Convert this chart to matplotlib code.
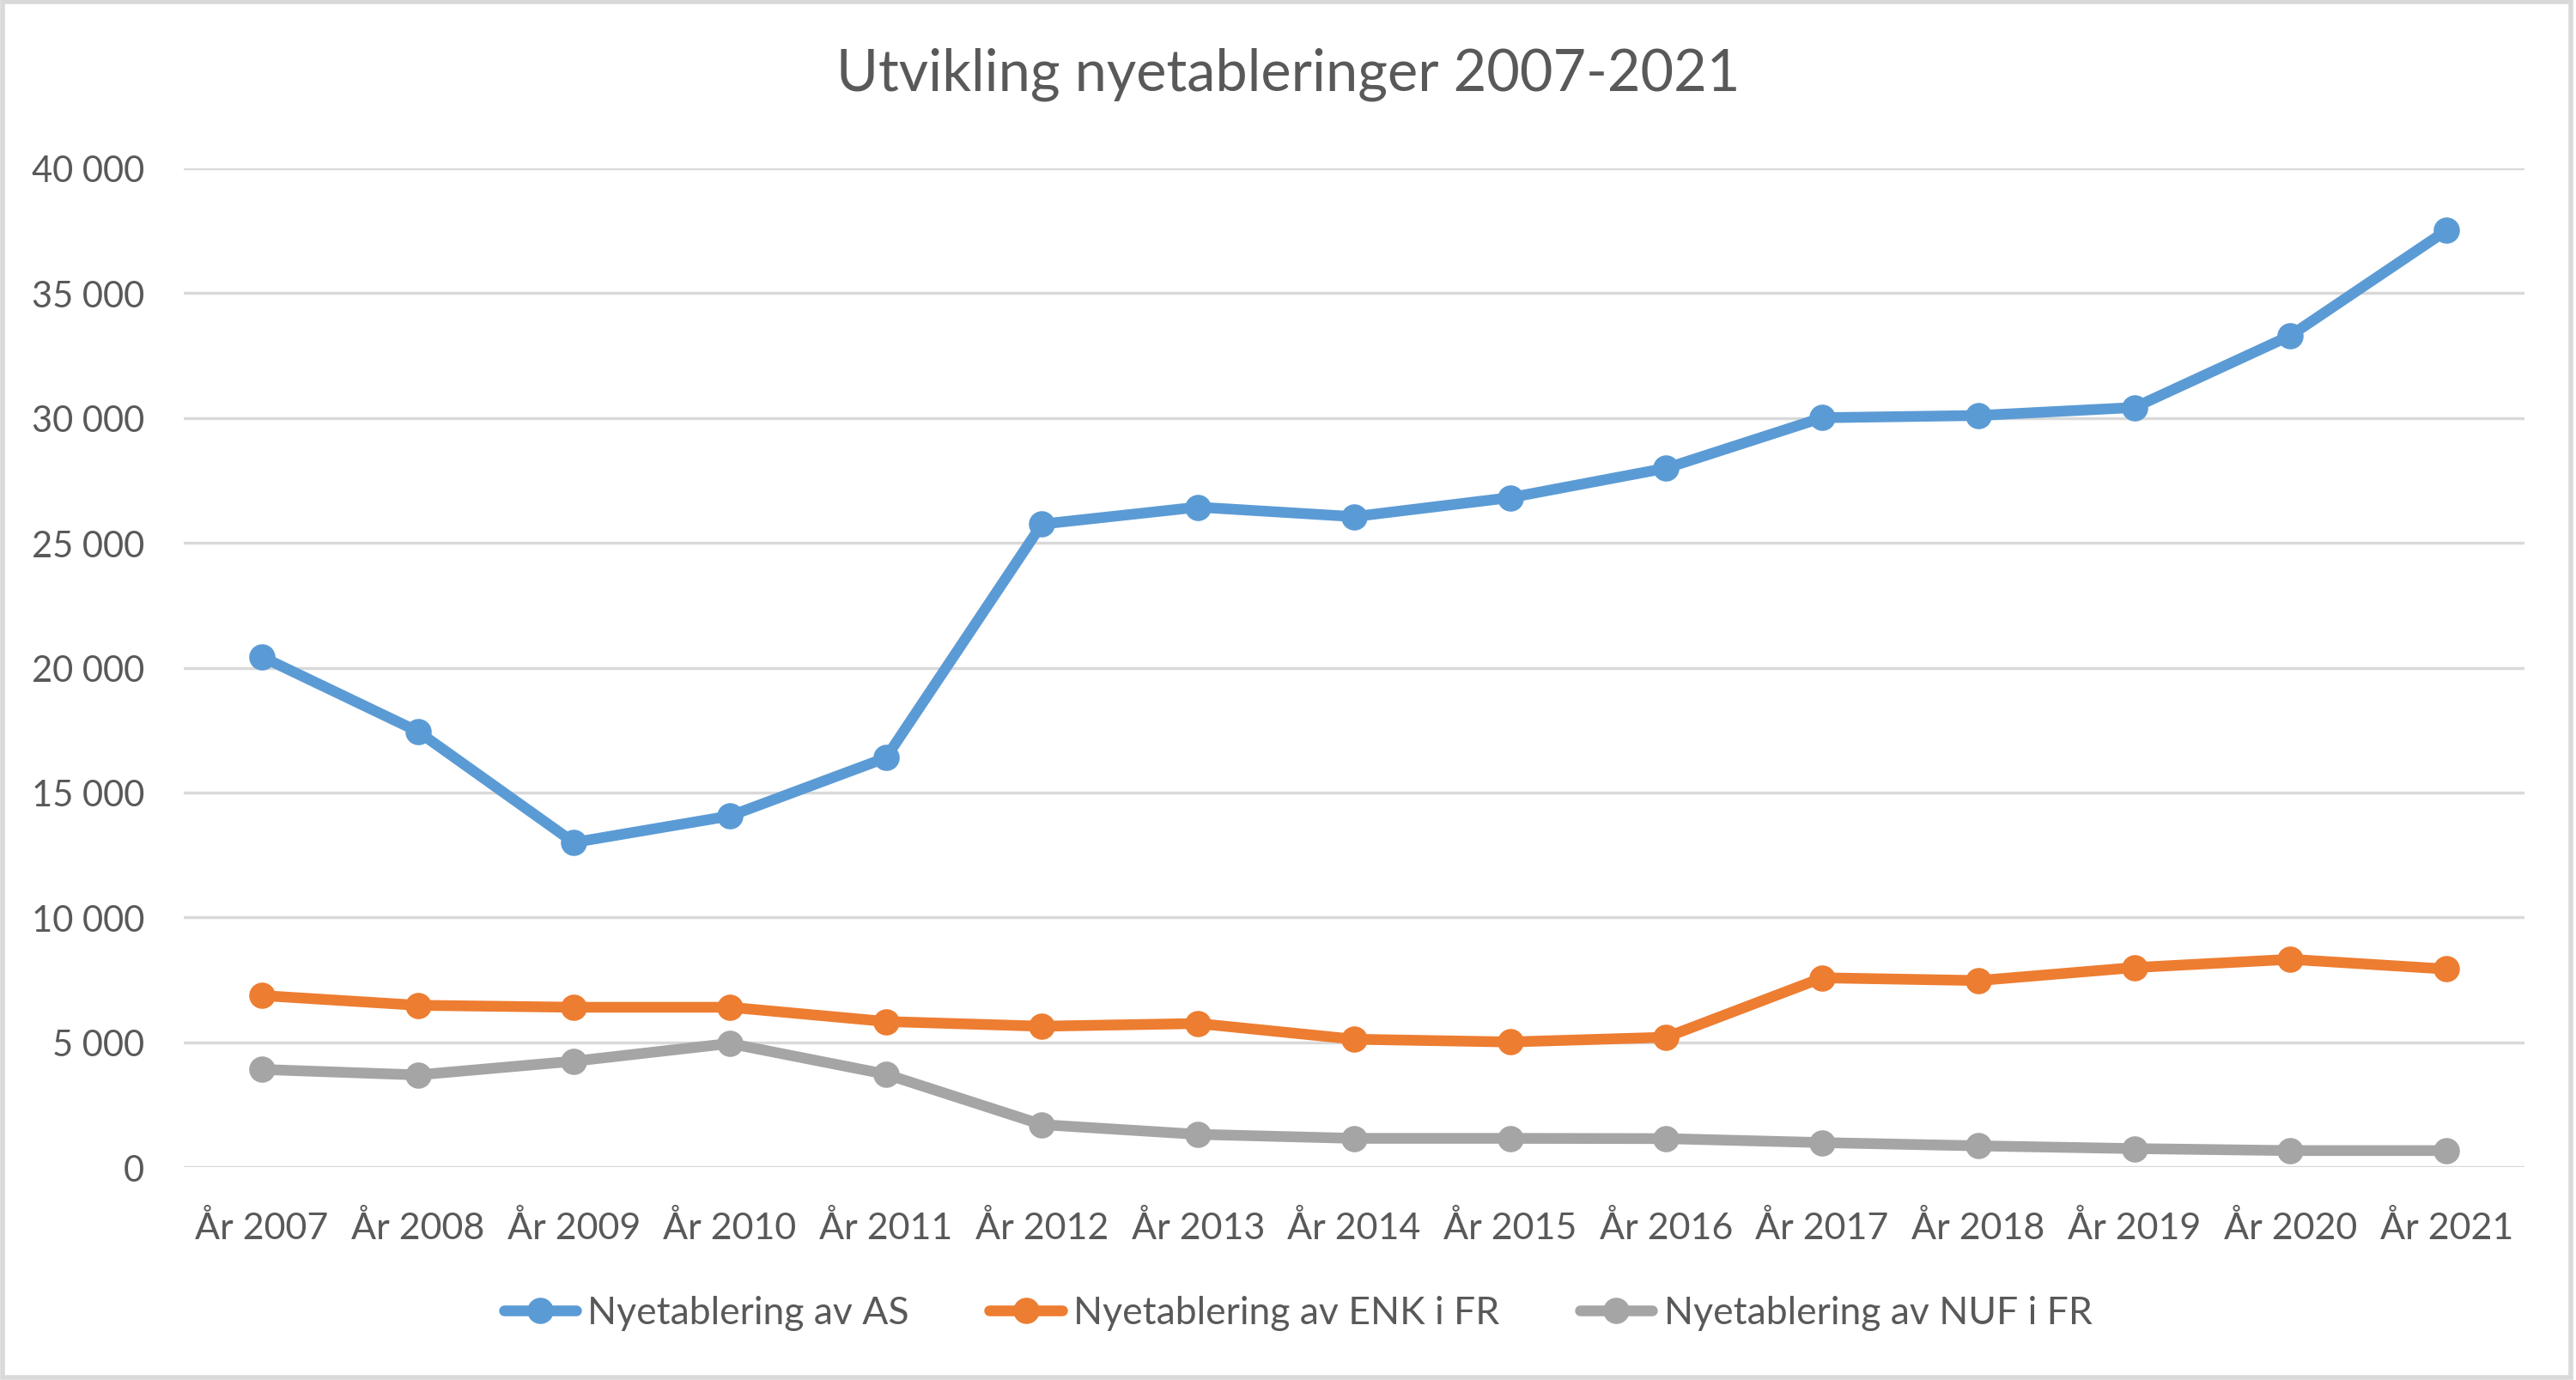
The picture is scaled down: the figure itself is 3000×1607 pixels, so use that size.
import matplotlib.pyplot as plt
from matplotlib.ticker import FuncFormatter, MultipleLocator
from matplotlib.patches import Rectangle

years = ['År 2007', 'År 2008', 'År 2009', 'År 2010', 'År 2011', 'År 2012', 'År 2013',
         'År 2014', 'År 2015', 'År 2016', 'År 2017', 'År 2018', 'År 2019', 'År 2020', 'År 2021']
as_values = [20440, 17450, 13000, 14060, 16390, 25750, 26430, 26050, 26810, 27990,
             30010, 30100, 30420, 33300, 37510]
enk_values = [6870, 6480, 6400, 6400, 5830, 5640, 5750, 5120, 5010, 5200,
              7580, 7470, 7990, 8320, 7930]
nuf_values = [3910, 3690, 4240, 4950, 3720, 1700, 1310, 1150, 1150, 1140,
              980, 850, 740, 660, 660]

series = [
    ('Nyetablering av AS', as_values, '#5B9BD5'),
    ('Nyetablering av ENK i FR', enk_values, '#ED7D31'),
    ('Nyetablering av NUF i FR', nuf_values, '#A5A5A5'),
]

text_color = '#595959'
plt.rcParams['font.family'] = ['Lato', 'DejaVu Sans']

fig = plt.figure(figsize=(30, 16.08), dpi=100)
ax = fig.add_axes([0.0713, 0.1542, 0.9087, 0.7233])

x = range(len(years))
for label, values, color in series:
    ax.plot(x, values, color=color, linewidth=9, marker='o', markersize=21,
            label=label, solid_capstyle='round', solid_joinstyle='round', zorder=3)

ax.set_xlim(-0.5, len(years) - 0.5)
ax.set_ylim(0, 40000)
ax.yaxis.set_major_locator(MultipleLocator(5000))
ax.yaxis.set_major_formatter(FuncFormatter(lambda v, p: f'{int(v):,}'.replace(',', ' ')))
ax.set_xticks(list(x))
ax.set_xticklabels(years)
ax.grid(axis='y', color='#D9D9D9', linewidth=2.5, zorder=0)
for s in ax.spines.values():
    s.set_visible(False)
ax.tick_params(axis='both', length=0, labelsize=30, labelcolor=text_color)
ax.tick_params(axis='x', labelsize=31, pad=36)
ax.tick_params(axis='y', pad=33)

fig.suptitle('Utvikling nyetableringer 2007-2021', x=0.5, y=0.946, va='center',
             fontsize=48, color=text_color)

ax.legend(loc='center', bbox_to_anchor=(0.476, -0.146), ncol=3, frameon=False,
          fontsize=32, labelcolor=text_color, handlelength=1.9, columnspacing=2.1,
          handletextpad=0.3)

fig.patches.append(Rectangle((0.001, 0.002), 0.997, 0.996, transform=fig.transFigure,
                             fill=False, edgecolor='#D9D9D9', linewidth=4))

fig.savefig('out.png', dpi=100, facecolor='white')
plt.close(fig)
